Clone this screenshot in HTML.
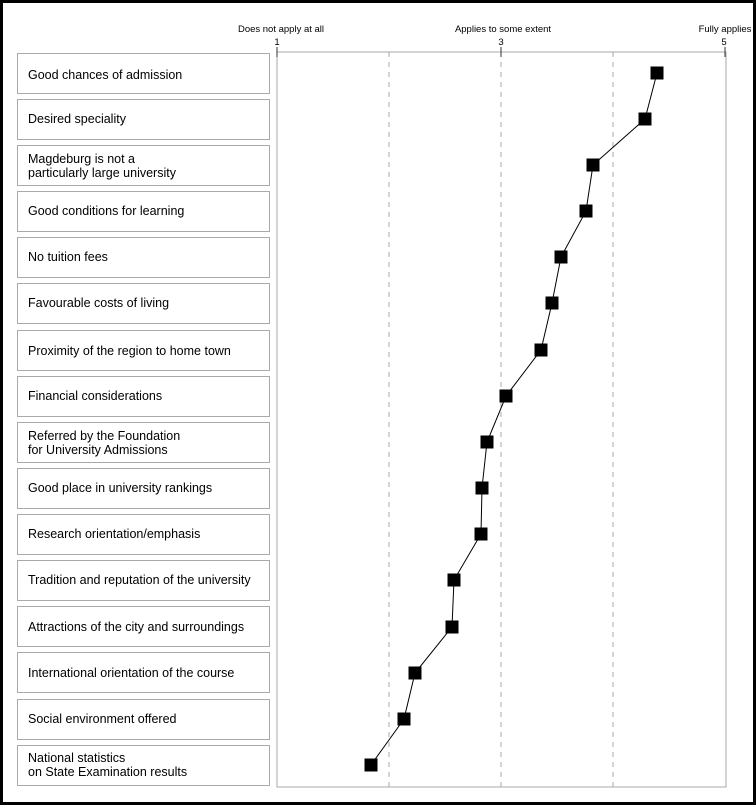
<!DOCTYPE html>
<html><head><meta charset="utf-8"><style>
body{margin:0;background:#fff}
</style></head><body>
<svg width="756" height="805" xmlns="http://www.w3.org/2000/svg" font-family="Liberation Sans, sans-serif">
<rect x="1.5" y="1.5" width="753" height="802" fill="#fff" stroke="#000" stroke-width="3"/>
<rect x="277" y="52" width="449" height="735" fill="none" stroke="#aaa" stroke-width="1"/>
<g stroke="#aaa" stroke-dasharray="5,5">
<line x1="389" y1="52" x2="389" y2="787"/><line x1="501" y1="52" x2="501" y2="787"/><line x1="613" y1="52" x2="613" y2="787"/>
</g>
<g stroke="#333"><line x1="277" y1="47" x2="277" y2="57"/><line x1="501" y1="47" x2="501" y2="57"/><line x1="725" y1="47" x2="725" y2="57"/></g>
<g font-size="9.5" text-anchor="middle" fill="#000">
<text x="281" y="32">Does not apply at all</text><text x="503" y="32">Applies to some extent</text><text x="725" y="32">Fully applies</text>
<text x="277" y="45">1</text><text x="501" y="45">3</text><text x="724" y="45">5</text>
</g>
<g fill="#fff" stroke="#aaa">
<rect x="17.5" y="53.5" width="252" height="40"/><rect x="17.5" y="99.5" width="252" height="40"/><rect x="17.5" y="145.5" width="252" height="40"/><rect x="17.5" y="191.5" width="252" height="40"/><rect x="17.5" y="237.5" width="252" height="40"/><rect x="17.5" y="283.5" width="252" height="40"/><rect x="17.5" y="330.5" width="252" height="40"/><rect x="17.5" y="376.5" width="252" height="40"/><rect x="17.5" y="422.5" width="252" height="40"/><rect x="17.5" y="468.5" width="252" height="40"/><rect x="17.5" y="514.5" width="252" height="40"/><rect x="17.5" y="560.5" width="252" height="40"/><rect x="17.5" y="606.5" width="252" height="40"/><rect x="17.5" y="652.5" width="252" height="40"/><rect x="17.5" y="699.5" width="252" height="40"/><rect x="17.5" y="745.5" width="252" height="40"/>
</g>
<g font-size="12.5" fill="#000">
<text x="28" y="79">Good chances of admission</text>
<text x="28" y="123">Desired speciality</text>
<text x="28" y="163">Magdeburg is not a</text><text x="28" y="177">particularly large university</text>
<text x="28" y="215">Good conditions for learning</text>
<text x="28" y="261">No tuition fees</text>
<text x="28" y="307">Favourable costs of living</text>
<text x="28" y="355">Proximity of the region to home town</text>
<text x="28" y="400">Financial considerations</text>
<text x="28" y="440">Referred by the Foundation</text><text x="28" y="454">for University Admissions</text>
<text x="28" y="492">Good place in university rankings</text>
<text x="28" y="538">Research orientation/emphasis</text>
<text x="28" y="584">Tradition and reputation of the university</text>
<text x="28" y="631">Attractions of the city and surroundings</text>
<text x="28" y="677">International orientation of the course</text>
<text x="28" y="723">Social environment offered</text>
<text x="28" y="762">National statistics</text><text x="28" y="776">on State Examination results</text>
</g>
<polyline fill="none" stroke="#000" stroke-width="1" points="657,73 645,119 593,165 586,211 561,257 552,303 541,350 506,396 487,442 482,488 481,534 454,580 452,627 415,673 404,719 371,765"/>
<g fill="#000">
<rect x="650.5" y="66.5" width="13" height="13"/><rect x="638.5" y="112.5" width="13" height="13"/><rect x="586.5" y="158.5" width="13" height="13"/><rect x="579.5" y="204.5" width="13" height="13"/><rect x="554.5" y="250.5" width="13" height="13"/><rect x="545.5" y="296.5" width="13" height="13"/><rect x="534.5" y="343.5" width="13" height="13"/><rect x="499.5" y="389.5" width="13" height="13"/><rect x="480.5" y="435.5" width="13" height="13"/><rect x="475.5" y="481.5" width="13" height="13"/><rect x="474.5" y="527.5" width="13" height="13"/><rect x="447.5" y="573.5" width="13" height="13"/><rect x="445.5" y="620.5" width="13" height="13"/><rect x="408.5" y="666.5" width="13" height="13"/><rect x="397.5" y="712.5" width="13" height="13"/><rect x="364.5" y="758.5" width="13" height="13"/>
</g>
</svg>
</body></html>
